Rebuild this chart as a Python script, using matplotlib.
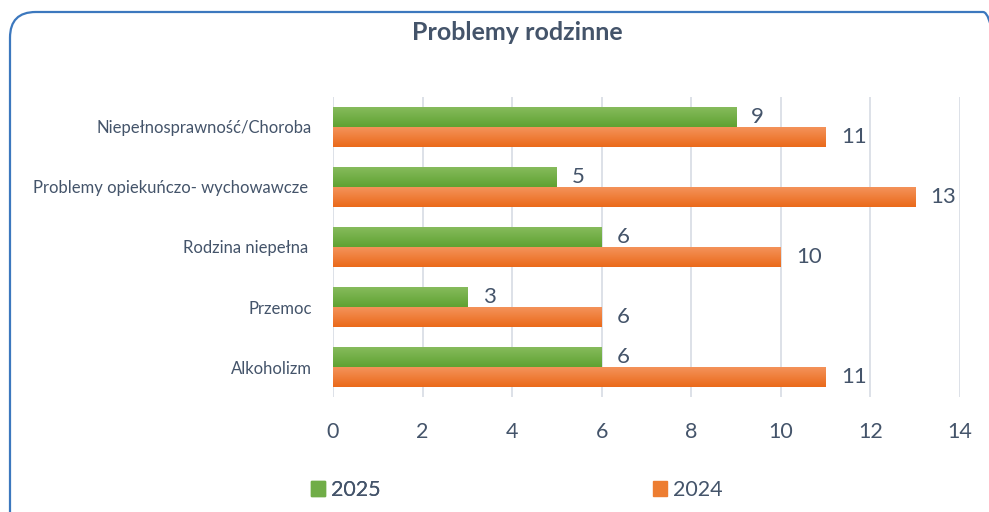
import numpy as np
import matplotlib
matplotlib.use("Agg")
import matplotlib.pyplot as plt
from matplotlib.patches import FancyBboxPatch, Rectangle
from matplotlib.colors import LinearSegmentedColormap

categories = ["Niepełnosprawność/Choroba", "Problemy opiekuńczo- wychowawcze ",
              "Rodzina niepełna ", "Przemoc", "Alkoholizm"]
v2025 = [9, 5, 6, 3, 6]
v2024 = [11, 13, 10, 6, 11]
xticks = [0, 2, 4, 6, 8, 10, 12, 14]

plt.rcParams["font.family"] = ["Lato", "DejaVu Sans"]
text_col = "#44546a"

fig = plt.figure(figsize=(9.89, 5.12), dpi=100)
ax = fig.add_axes([333 / 989, 1 - 397 / 512, 627 / 989, 300 / 512])

y = np.arange(len(categories))
h = 1 / 3
green_cmap = LinearSegmentedColormap.from_list("g", ["#86bb5c", "#5fa232"])
orange_cmap = LinearSegmentedColormap.from_list("o", ["#f4925a", "#ea6a1a"])
grad = np.linspace(0, 1, 64).reshape(-1, 1)

b1 = ax.barh(y - h / 2, v2025, height=h, color="#70ad47", label="2025", zorder=2)
b2 = ax.barh(y + h / 2, v2024, height=h, color="#ed7d31", label="2024", zorder=2)

for bars, cmap in ((b1, green_cmap), (b2, orange_cmap)):
    for p in bars:
        x0, y0 = p.get_x(), p.get_y()
        w, hh = p.get_width(), p.get_height()
        # y axis is inverted: top of bar = y0
        ax.imshow(grad, cmap=cmap, aspect="auto", extent=(x0, x0 + w, y0 + hh, y0),
                  zorder=3, interpolation="bilinear")
        p.set_alpha(0)

for bars, vals in ((b1, v2025), (b2, v2024)):
    for p, v in zip(bars, vals):
        ax.annotate(str(v), (p.get_width(), p.get_y() + p.get_height() / 2),
                    xytext=(11, 0), textcoords="offset points", ha="left", va="center",
                    fontsize=16, color=text_col, zorder=4)

ax.set_xlim(0, 14)
ax.set_ylim(len(categories) - 0.5, -0.5)
ax.set_xticks(xticks)
ax.set_yticks(y)
ax.set_yticklabels(categories)
ax.tick_params(axis="x", length=0, pad=18, labelsize=15.5, labelcolor=text_col)
ax.tick_params(axis="y", length=0, pad=15, labelsize=12, labelcolor=text_col)
ax.grid(axis="x", color="#dde1e8", linewidth=1.4, zorder=0)
ax.set_axisbelow(True)
for s in ax.spines.values():
    s.set_visible(False)

fig.text(517 / 989, 1 - 33 / 512, "Problemy rodzinne", ha="center", va="center",
         fontsize=18, fontweight="bold", color=text_col)

# legend entries placed like the reference
handles = [Rectangle((0, 0), 1, 1, color=c) for c in ("#70ad47", "#ed7d31")]
leg_kw = dict(loc="center left", frameon=False, fontsize=15.5, handlelength=0.65,
              handleheight=0.65, handletextpad=0.3, labelcolor=text_col,
              borderpad=0, borderaxespad=0)
leg1 = fig.legend([handles[0]], ["2025"], bbox_to_anchor=(311 / 989, 1 - 490 / 512), **leg_kw)
leg2 = fig.legend([handles[1]], ["2024"], bbox_to_anchor=(653 / 989, 1 - 490 / 512), **leg_kw)
fig.add_artist(leg1)

border = FancyBboxPatch((10 / 989, -0.05), 1.02 - 10 / 989, 1.05 - 12 / 512,
                        boxstyle="round,pad=0,rounding_size=0.026",
                        mutation_aspect=989 / 512, transform=fig.transFigure,
                        facecolor="none", edgecolor="#3c78be", linewidth=1.6,
                        clip_on=False)
fig.patches.append(border)

fig.savefig("out.png", dpi=100)
